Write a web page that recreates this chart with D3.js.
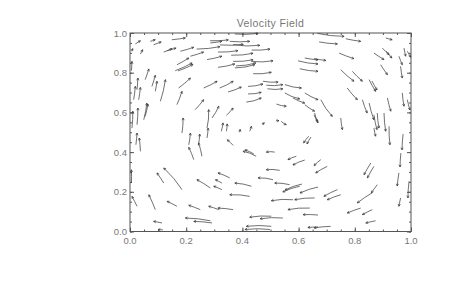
<!DOCTYPE html>
<html><head><meta charset="utf-8">
<script src="https://cdn.jsdelivr.net/npm/d3@7"></script>
<style>html,body{margin:0;padding:0;background:#fff;}svg{display:block;}</style>
</head><body>
<svg id="chart" width="457" height="294"></svg>
<script>
const chartTitle = "Velocity Field";
const xTickValues = [0, 0.2, 0.4, 0.6, 0.8, 1.0];
const yTickValues = [0, 0.2, 0.4, 0.6, 0.8, 1.0];
// streamline segments: [x_tail, y_tail, x_head, y_head]
const streamlines = [
[0.019,0.945,0.037,0.961],[0.072,0.958,0.090,0.966],[0.084,0.941,0.111,0.955],[0.149,0.966,0.197,0.975],
[0.037,0.894,0.045,0.916],[0.120,0.904,0.150,0.921],[0.132,0.911,0.164,0.924],[0.179,0.908,0.227,0.928],
[0.215,0.883,0.262,0.904],[0.167,0.840,0.209,0.874],[0.161,0.810,0.221,0.849],[0.171,0.809,0.224,0.841],
[0.005,0.908,0.010,0.921],[0.005,0.810,0.007,0.857],[0.054,0.765,0.067,0.819],[0.025,0.714,0.028,0.773],
[0.013,0.664,0.019,0.731],[0.031,0.664,0.037,0.726],[0.078,0.731,0.090,0.787],[0.090,0.706,0.096,0.757],
[0.108,0.656,0.126,0.765],[0.167,0.639,0.185,0.706],[0.173,0.723,0.215,0.773],[0.262,0.723,0.310,0.757],
[0.232,0.614,0.262,0.664],[0.049,0.563,0.060,0.647],[0.054,0.580,0.064,0.642],[0.007,0.521,0.010,0.606],
[0.025,0.538,0.028,0.622],[0.185,0.496,0.189,0.572],[0.274,0.521,0.280,0.614],[0.292,0.572,0.316,0.631],
[0.285,0.961,0.350,0.965],[0.320,0.940,0.403,0.943],[0.237,0.919,0.320,0.931],[0.286,0.950,0.327,0.958],
[0.274,0.866,0.327,0.883],[0.433,0.914,0.498,0.919],
[0.373,0.995,0.456,0.998],[0.355,0.958,0.426,0.958],[0.367,0.941,0.462,0.938],[0.313,0.904,0.384,0.911],
[0.360,0.888,0.438,0.898],[0.313,0.827,0.373,0.844],[0.367,0.857,0.438,0.865],[0.373,0.824,0.444,0.840],
[0.377,0.834,0.448,0.849],[0.432,0.857,0.509,0.860],[0.438,0.795,0.503,0.802],[0.598,0.860,0.669,0.844],
[0.604,0.820,0.669,0.807],[0.622,0.874,0.669,0.865],[0.319,0.723,0.367,0.757],[0.349,0.703,0.396,0.728],
[0.420,0.731,0.473,0.743],[0.473,0.757,0.527,0.753],[0.485,0.737,0.544,0.740],[0.489,0.719,0.544,0.719],
[0.420,0.693,0.467,0.701],[0.414,0.652,0.467,0.673],[0.551,0.740,0.610,0.723],[0.551,0.698,0.604,0.668],
[0.622,0.698,0.669,0.664],[0.580,0.673,0.622,0.647],[0.521,0.642,0.556,0.631],[0.622,0.639,0.657,0.606],
[0.657,0.597,0.669,0.547],[0.343,0.585,0.367,0.622],[0.325,0.505,0.331,0.547],[0.343,0.505,0.346,0.542],
[0.426,0.505,0.432,0.530],[0.538,0.555,0.556,0.538],
[0.667,0.998,0.762,0.983],[0.673,0.955,0.738,0.945],[0.768,0.971,0.821,0.958],[0.910,0.975,0.933,0.966],
[0.655,0.871,0.697,0.862],[0.744,0.899,0.797,0.871],[0.868,0.899,0.904,0.866],[0.898,0.924,0.922,0.891],
[0.911,0.909,0.932,0.874],[0.957,0.883,0.969,0.840],[0.975,0.924,0.981,0.883],[0.987,0.908,0.999,0.878],
[0.750,0.815,0.797,0.757],[0.791,0.807,0.827,0.757],[0.892,0.840,0.916,0.790],[0.963,0.832,0.969,0.773],
[0.851,0.765,0.874,0.706],[0.861,0.758,0.879,0.713],[0.773,0.723,0.809,0.664],[0.679,0.664,0.720,0.580],
[0.827,0.664,0.844,0.597],[0.851,0.647,0.868,0.563],[0.916,0.673,0.928,0.606],[0.969,0.698,0.975,0.631],
[0.987,0.664,0.996,0.612],[0.750,0.572,0.756,0.513],[0.868,0.588,0.879,0.513],[0.880,0.597,0.886,0.521],
[0.904,0.597,0.910,0.505],[0.655,0.588,0.667,0.555],
[0.021,0.437,0.025,0.496],[0.037,0.404,0.033,0.471],[0.209,0.437,0.215,0.496],[0.244,0.437,0.248,0.491],
[0.227,0.362,0.209,0.424],[0.256,0.379,0.244,0.446],[0.274,0.471,0.278,0.521],[0.005,0.244,0.005,0.311],
[0.120,0.244,0.096,0.295],[0.185,0.211,0.120,0.320],[0.286,0.219,0.238,0.261],[0.327,0.244,0.304,0.261],
[0.327,0.211,0.298,0.228],[0.025,0.127,0.007,0.177],[0.090,0.110,0.067,0.185],[0.167,0.127,0.132,0.152],
[0.250,0.110,0.209,0.132],[0.316,0.110,0.280,0.127],[0.286,0.054,0.197,0.068],[0.114,0.043,0.084,0.051],
[0.292,0.043,0.227,0.051],[0.117,0.008,0.100,0.010],
[0.367,0.434,0.346,0.462],[0.449,0.379,0.402,0.404],[0.441,0.390,0.409,0.411],[0.515,0.400,0.485,0.400],
[0.592,0.379,0.562,0.362],[0.622,0.360,0.580,0.335],[0.636,0.480,0.618,0.446],[0.644,0.476,0.630,0.441],
[0.533,0.308,0.485,0.311],[0.509,0.261,0.456,0.270],[0.355,0.270,0.313,0.295],[0.432,0.228,0.373,0.244],
[0.568,0.236,0.515,0.244],[0.604,0.228,0.544,0.199],[0.612,0.239,0.552,0.209],[0.669,0.224,0.605,0.194],
[0.426,0.177,0.355,0.185],[0.580,0.160,0.503,0.155],[0.657,0.169,0.586,0.160],[0.367,0.110,0.313,0.118],
[0.503,0.077,0.426,0.072],[0.544,0.068,0.463,0.064],[0.640,0.118,0.562,0.110],[0.669,0.083,0.616,0.085],
[0.503,0.026,0.414,0.026],[0.498,0.010,0.409,0.010],[0.669,0.023,0.633,0.020],
[0.679,0.362,0.655,0.332],[0.702,0.328,0.661,0.295],[0.857,0.345,0.833,0.286],[0.868,0.328,0.845,0.270],
[0.880,0.236,0.859,0.194],[0.861,0.194,0.809,0.144],[0.738,0.211,0.690,0.177],[0.750,0.185,0.702,0.160],
[0.821,0.118,0.773,0.093],[0.862,0.110,0.827,0.085],[0.874,0.054,0.839,0.043],[0.714,0.026,0.655,0.018],
[0.972,0.491,0.968,0.411],[0.964,0.395,0.961,0.325],[0.957,0.295,0.951,0.229],[0.993,0.253,0.989,0.169],
[0.963,0.169,0.957,0.127],[0.922,0.530,0.925,0.437],[0.868,0.521,0.874,0.480],
[0.390,0.500,0.392,0.515],[0.520,0.560,0.530,0.558],[0.470,0.540,0.478,0.548]
];

const svg = d3.select("#chart");
const L = 130, T = 33, W = 281, H = 198.5;
const x = d3.scaleLinear().domain([0, 1]).range([L, L + W]);
const y = d3.scaleLinear().domain([0, 1]).range([T + H, T]);
const axisColor = "#555", textColor = "#777";
const font = "'Liberation Sans', Arial, sans-serif";

// title
svg.append("text").attr("x", x(0.5)).attr("y", 27).attr("text-anchor", "middle")
  .attr("font-family", font).attr("font-size", 10.5).attr("fill", textColor)
  .attr("letter-spacing", 0.4).text(chartTitle);

// frame
svg.append("rect").attr("x", L).attr("y", T).attr("width", W).attr("height", H)
  .attr("fill", "none").attr("stroke", axisColor).attr("stroke-width", 1);

const fmt = d3.format(".1f");
const minor = d3.range(0, 1.0001, 0.05);
const major = 4, minorLen = 2;
function addAxis(axisGen, transform, values, len) {
  svg.append("g").attr("transform", transform)
    .call(axisGen.tickValues(values).tickSize(len).tickFormat(""))
    .call(g => g.select(".domain").remove())
    .call(g => g.selectAll("line").attr("stroke", axisColor));
}
// inward ticks on all four sides
addAxis(d3.axisTop(x), `translate(0,${T + H})`, minor, minorLen);
addAxis(d3.axisTop(x), `translate(0,${T + H})`, xTickValues, major);
addAxis(d3.axisBottom(x), `translate(0,${T})`, minor, minorLen);
addAxis(d3.axisBottom(x), `translate(0,${T})`, xTickValues, major);
addAxis(d3.axisRight(y), `translate(${L},0)`, minor, minorLen);
addAxis(d3.axisRight(y), `translate(${L},0)`, yTickValues, major);
addAxis(d3.axisLeft(y), `translate(${L + W},0)`, minor, minorLen);
addAxis(d3.axisLeft(y), `translate(${L + W},0)`, yTickValues, major);

// tick labels
svg.append("g").selectAll("text").data(xTickValues).join("text")
  .attr("x", d => x(d)).attr("y", T + H + 12).attr("text-anchor", "middle")
  .attr("font-family", font).attr("font-size", 9.5).attr("fill", textColor).text(fmt);
svg.append("g").selectAll("text").data(yTickValues).join("text")
  .attr("x", L - 3).attr("y", d => y(d) + 3.5).attr("text-anchor", "end")
  .attr("font-family", font).attr("font-size", 9.5).attr("fill", textColor).text(fmt);

// streamlines with slight curvature around the vortex centre
const cx = x(0.5), cy = y(0.5);
const g = svg.append("g").attr("fill", "none").attr("stroke", "#333").attr("stroke-width", 0.7);
streamlines.forEach(([a, b, c, d]) => {
  const x0 = x(a), y0 = y(b), x1 = x(c), y1 = y(d);
  const mx = (x0 + x1) / 2, my = (y0 + y1) / 2;
  const len = Math.hypot(x1 - x0, y1 - y0);
  const dist = Math.max(Math.hypot(cx - mx, cy - my), 1);
  const s = Math.min(len * len / (8 * dist), len * 0.2);
  const qx = mx + 2 * s * (cx - mx) / dist, qy = my + 2 * s * (cy - my) / dist;
  const p = d3.path();
  p.moveTo(x0, y0); p.quadraticCurveTo(qx, qy, x1, y1);
  const ang = Math.atan2(y1 - qy, x1 - qx);
  const hl = 2.5, ha = 0.45;
  p.moveTo(x1 - hl * Math.cos(ang - ha), y1 - hl * Math.sin(ang - ha));
  p.lineTo(x1, y1);
  p.lineTo(x1 - hl * Math.cos(ang + ha), y1 - hl * Math.sin(ang + ha));
  g.append("path").attr("d", p.toString());
});
</script>
</body></html>
